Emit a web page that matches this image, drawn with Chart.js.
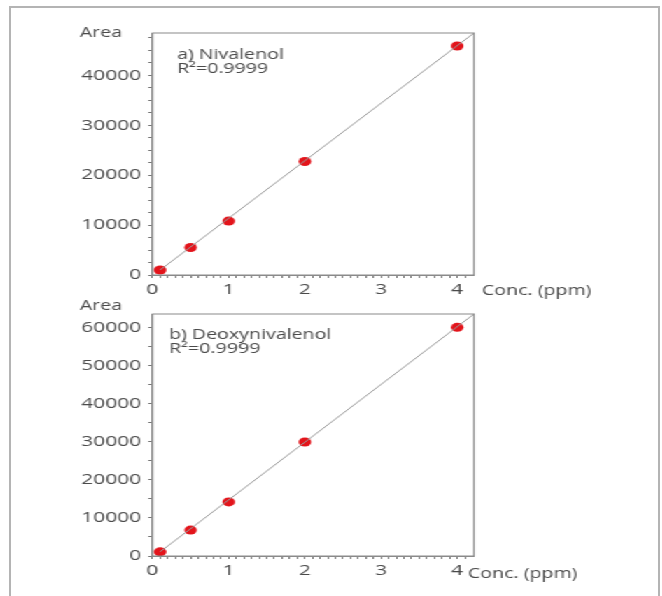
<!DOCTYPE html>
<html>
<head>
<meta charset="utf-8">
<title>Calibration curves</title>
<script src="https://cdn.jsdelivr.net/npm/chart.js@4.4.0/dist/chart.umd.min.js"></script>
<style>
  html, body { margin: 0; padding: 0; background: #fff; }
  body { width: 662px; height: 596px; position: relative; overflow: hidden; }
  .frame { position: absolute; left: 9px; top: 6px; width: 647px; height: 620px; border: 2px solid #b4b4b4; }
  /* the source picture is stretched sideways, so the charts are too */
  .stretch { position: absolute; left: 0; top: 0; width: 473px; height: 596px; transform: scaleX(1.4); transform-origin: 0 0; }
  .box { position: absolute; left: 0; width: 473px; height: 300px; }
  #box1 { top: 0; }
  #box2 { top: 290px; }
</style>
</head>
<body>
<div class="frame"></div>
<div class="stretch">
  <div class="box" id="box1"><canvas id="chartNiv"></canvas></div>
  <div class="box" id="box2"><canvas id="chartDon"></canvas></div>
</div>
<script>
// data
const concPpm = [0.1, 0.5, 1, 2, 4];
const nivalenolArea = [1000, 5500, 10800, 22750, 45900];
const deoxyArea = [1100, 6800, 14200, 29900, 60000];
const fitX = [0.1, 4.22];
const nivalenolFitY = [1000, 48500];
const deoxyFitY = [1100, 63500];
const xTicks = [0, 1, 2, 3, 4];
const nivalenolTicks = [0, 10000, 20000, 30000, 40000];
const deoxyTicks = [0, 10000, 20000, 30000, 40000, 50000, 60000];

Chart.defaults.font.family = '"Open Sans", sans-serif';
Chart.defaults.color = '#4a4a4a';

// box around plot + free text labels
const framePlugin = {
    id: 'frame',
    afterDraw(chart, args, opts) {
        const ctx = chart.ctx;
        const a = chart.chartArea;
        ctx.save();
        ctx.strokeStyle = '#8a8a8a';
        ctx.lineWidth = 1;
        ctx.strokeRect(a.left, a.top, a.right - a.left, a.bottom - a.top);
        ctx.fillStyle = '#4a4a4a';
        ctx.font = '14px "Open Sans"';
        ctx.textBaseline = 'middle';
        ctx.fillText('Area', opts.areaX, a.top + opts.areaDy);
        ctx.fillText('Conc. (ppm)', a.right + opts.concDx, a.bottom + opts.concDy);
        ctx.fillText(opts.title, a.left + opts.noteDx, a.top + opts.noteDy);
        ctx.fillText(opts.r2, a.left + opts.noteDx, a.top + opts.noteDy + 14);
        ctx.restore();
    }
};

function toPoints(xs, ys) {
    return xs.map((x, i) => ({ x: x, y: ys[i] }));
}

// label only the values in the list, other ticks stay as small marks
function pickLabel(list, v, tol) {
    const hit = list.find(t => Math.abs(t - v) < tol);
    return hit === undefined ? '' : String(hit);
}

function onStep(v, step) {
    const q = v / step;
    return Math.abs(q - Math.round(q)) < 1e-6;
}

// y ticks are generated every 500 so that the fixed max divides evenly,
// only every yMinor of them gets a visible mark
function makeChart(id, areaValues, fitY, yTicks, yMax, yMinor, xAxisHeight, pad, text) {
    return new Chart(document.getElementById(id), {
        type: 'scatter',
        data: {
            datasets: [
                {
                    data: toPoints(fitX, fitY),
                    showLine: true,
                    borderColor: '#999',
                    borderWidth: 1,
                    pointRadius: 0
                },
                {
                    data: toPoints(concPpm, areaValues),
                    backgroundColor: '#e3141b',
                    borderWidth: 0,
                    pointRadius: 4.5
                }
            ]
        },
        options: {
            responsive: true,
            maintainAspectRatio: false,
            animation: false,
            layout: { padding: pad },
            scales: {
                x: {
                    type: 'linear',
                    min: 0,
                    max: 4.22,
                    grid: {
                        drawOnChartArea: false,
                        tickLength: 3,
                        tickColor: c => (c.tick && onStep(c.tick.value, 0.1)) ? '#777' : 'rgba(0,0,0,0)'
                    },
                    border: { color: '#8a8a8a' },
                    ticks: {
                        stepSize: 0.1,
                        autoSkip: false,
                        maxRotation: 0,
                        padding: 3,
                        font: { size: 15 },
                        callback: function(v) { return pickLabel(xTicks, v, 1e-6); }
                    },
                    afterFit: function(s) { s.height = xAxisHeight; }
                },
                y: {
                    min: 0,
                    max: yMax,
                    grid: {
                        drawOnChartArea: false,
                        tickLength: 3,
                        tickColor: c => (c.tick && onStep(c.tick.value, yMinor)) ? '#777' : 'rgba(0,0,0,0)'
                    },
                    border: { color: '#8a8a8a' },
                    ticks: {
                        stepSize: 500,
                        autoSkip: false,
                        padding: 5,
                        font: { size: 15 },
                        callback: function(v) { return pickLabel(yTicks, v, 1); }
                    },
                    afterFit: function(s) { s.width = 108.9; }
                }
            },
            plugins: {
                legend: { display: false },
                tooltip: { enabled: false },
                frame: text
            }
        },
        plugins: [framePlugin]
    });
}

// a) Nivalenol
makeChart('chartNiv', nivalenolArea, nivalenolFitY, nivalenolTicks, 48500, 2500, 25,
    { top: 33, right: 134.4, left: 0, bottom: 0 },
    { title: 'a) Nivalenol', r2: 'R²=0.9999', areaX: 57, areaDy: 0, concDx: 5.7, concDy: 16, noteDx: 17.5, noteDy: 22 });

// b) Deoxynivalenol
makeChart('chartDon', deoxyArea, deoxyFitY, deoxyTicks, 63500, 5000, 34,
    { top: 24, right: 134.4, left: 0, bottom: 0 },
    { title: 'b) Deoxynivalenol', r2: 'R²=0.9999', areaX: 57, areaDy: -8, concDx: -4.3, concDy: 18, noteDx: 11.8, noteDy: 21 });
</script>
</body>
</html>
